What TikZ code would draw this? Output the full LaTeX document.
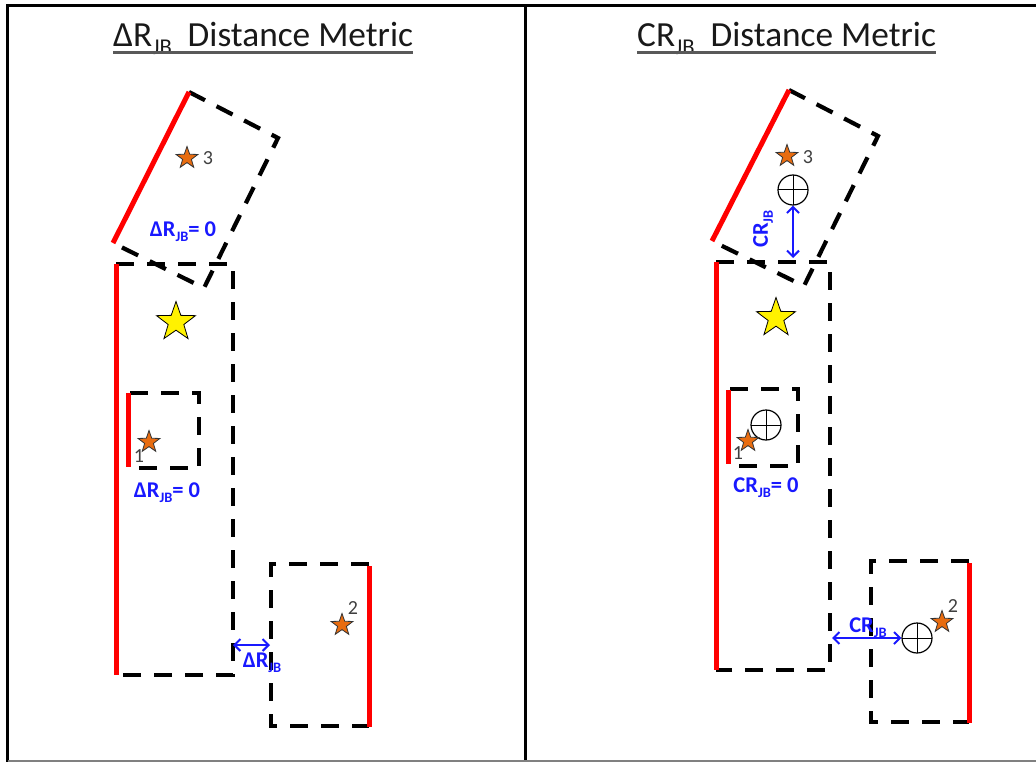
\documentclass[tikz,border=0pt]{standalone}
\usepackage{fontspec}
\setmainfont{Carlito}
\usetikzlibrary{shapes.geometric,arrows.meta}
\definecolor{starorange}{RGB}{232,108,16}
\definecolor{lblblue}{RGB}{25,25,255}
\newcommand\sJB{\raisebox{-0.45ex}{\scalebox{0.64}{JB}}}
\begin{document}
\begin{tikzpicture}[x=1pt,y=-1pt,
  frame/.style={line width=3pt,black},
  fault/.style={red,line width=5pt},
  rupt/.style={line width=4.2pt,dash pattern=on 18pt off 13pt},
  smallstar/.style={star,star points=5,star point ratio=2.5,minimum size=23pt,inner sep=0pt,fill=starorange,draw=black!80,line width=0.8pt},
  bigstar/.style={star,star points=5,star point ratio=2.5,minimum size=41pt,inner sep=0pt,fill=yellow,draw=black,line width=0.8pt},
  num/.style={font=\fontsize{20}{20}\selectfont,text=black!75,inner sep=0pt},
  lbl/.style={font=\bfseries\fontsize{22.5}{22.5}\selectfont,text=lblblue,inner sep=0pt},
  title/.style={font=\fontsize{35.3}{40}\selectfont,anchor=base west,inner sep=0pt,text=black!90},
  uline/.style={line width=2.5pt,black!65},
  dist/.style={lblblue,line width=2pt,{Straight Barb[length=6pt,width=12pt]}-{Straight Barb[length=6pt,width=12pt]}},
  hypo/.style={circle,draw,line width=1.2pt,minimum size=30pt,inner sep=0pt,
    path picture={\draw[line width=1pt] (path picture bounding box.north) -- (path picture bounding box.south)
      (path picture bounding box.west) -- (path picture bounding box.east);}}
]
\useasboundingbox (0,0) rectangle (1036,762);
\fill[white] (0,0) rectangle (1036,762);
% frame
\draw[frame] (7.5,762) -- (7.5,5.5) -- (1036,5.5);
\draw[frame] (525,5.5) -- (525,762);
\draw[gray,line width=1.5pt] (7.5,761) -- (1036,761);

% ---------------- left panel ----------------
\node[title] (tL) at (113,47) {ΔR\sJB\ \ Distance Metric};
\draw[uline] ([yshift=-5.5pt]tL.base west) -- ([yshift=-5.5pt]tL.base east);

% segment 3
\draw[rupt] (189,92) -- (278,138) -- (204,288) -- (113,243);
\draw[fault] (113,243) -- (189,92);
% main segment
\draw[rupt] (116,264) -- (233,264) -- (233,675) -- (116,675);
\draw[fault] (116,264) -- (116,675);
% small segment 1
\draw[rupt] (130,393) -- (199,393) -- (199,468) -- (130,468);
\draw[fault] (128,393) -- (128,467);
% segment 2
\draw[rupt] (369,564) -- (271,564) -- (271,726) -- (369,726);
\draw[fault] (369,566) -- (369,727);

\node[bigstar] (Lbig) at (176,322) {};
\node[smallstar] (Ls3) at (187,158) {};
\node[num] (Ln3) at (208,158) {3};
\node[smallstar] (Ls1) at (149,442) {};
\node[num] (Ln1) at (139,456) {1};
\node[smallstar] (Ls2) at (342,625) {};
\node[num] (Ln2) at (353,608) {2};

\node[lbl] (Ll3) at (183,232) {ΔR\sJB= 0};
\node[lbl] (Ll1) at (167,493) {ΔR\sJB= 0};
\coordinate (La1) at (233,645);
\coordinate (La2) at (270,645);
\draw[dist] (La1) -- (La2);
\node[lbl] (Ll2) at (262,663) {ΔR\sJB};

% ---------------- right panel ----------------
\node[title] (tR) at (637,47) {CR\sJB\ \ Distance Metric};
\draw[uline] ([yshift=-5.5pt]tR.base west) -- ([yshift=-5.5pt]tR.base east);

\draw[rupt] (789,90) -- (878,136) -- (804,286) -- (712,241);
\draw[fault] (712,241) -- (789,90);
\draw[rupt] (716,262) -- (830,262) -- (830,670) -- (716,670);
\draw[fault] (716,262) -- (716,670);
\draw[rupt] (730,389) -- (798,389) -- (798,466) -- (730,466);
\draw[fault] (728,390) -- (728,464);
\draw[rupt] (969,561) -- (871,561) -- (871,722) -- (969,722);
\draw[fault] (969,563) -- (969,723);

\node[bigstar] (Rbig) at (776,318) {};
\node[smallstar] (Rs3) at (787,156) {};
\node[num] (Rn3) at (808,157) {3};
\node[hypo] (Rh3) at (793,190) {};
\coordinate (Rv2) at (793,258);
\draw[dist] (Rh3.south) -- (Rv2);
\node[lbl,rotate=90] (Rl3) at (763,229) {CR\sJB};

\node[hypo] (Rh1) at (766,425) {};
\node[smallstar] (Rs1) at (748,441) {};
\node[num] (Rn1) at (738,453) {1};
\node[lbl] (Rl1) at (766,488) {CR\sJB= 0};

\node[hypo] (Rh2) at (917,638) {};
\node[smallstar] (Rs2) at (942,622) {};
\node[num] (Rn2) at (953,606) {2};
\coordinate (Ra1) at (832,638);
\draw[dist] (Ra1) -- (Rh2.west);
\node[lbl] (Rl2) at (868,628) {CR\sJB};
\end{tikzpicture}
\end{document}
